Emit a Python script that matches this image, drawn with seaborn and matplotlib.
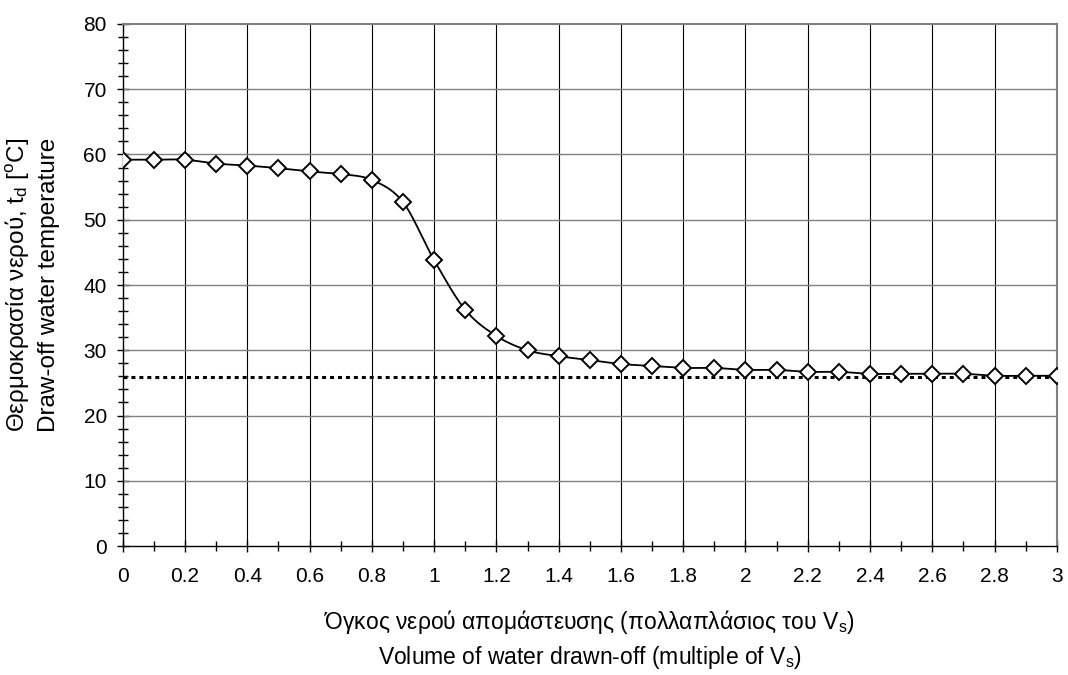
import numpy as np
import pandas as pd
import matplotlib
matplotlib.use("Agg")
import matplotlib.pyplot as plt
import seaborn as sns
from matplotlib.ticker import MultipleLocator, FuncFormatter

# ============================
# DATA
# ============================

volume = [0.0, 0.1, 0.2, 0.3, 0.4, 0.5, 0.6, 0.7, 0.8, 0.9,
          1.0, 1.1, 1.2, 1.3, 1.4, 1.5, 1.6, 1.7, 1.8, 1.9,
          2.0, 2.1, 2.2, 2.3, 2.4, 2.5, 2.6, 2.7, 2.8, 2.9, 3.0]
temperature = [59.2, 59.2, 59.2, 58.6, 58.3, 57.9, 57.4, 57.0, 56.1, 52.7,
               43.8, 36.2, 32.2, 30.0, 29.1, 28.5, 27.9, 27.6, 27.3, 27.3,
               27.0, 27.0, 26.7, 26.7, 26.4, 26.4, 26.4, 26.4, 26.1, 26.1, 26.1]
cold_level = 25.9

df = pd.DataFrame({"volume": volume, "temperature": temperature})


# smooth curve through the points (Bezier, like a spreadsheet "smoothed line")
def smooth_curve(xs, ys, n=20):
    p = np.column_stack([xs, ys])
    pts = np.vstack([p[0], p, p[-1]])
    out = []
    t = np.linspace(0, 1, n, endpoint=False)[:, None]
    for i in range(1, len(pts) - 2):
        p0, p1, p2, p3 = pts[i - 1], pts[i], pts[i + 1], pts[i + 2]
        b1 = p1 + (p2 - p0) / 6
        b2 = p2 - (p3 - p1) / 6
        seg = ((1 - t) ** 3) * p1 + 3 * ((1 - t) ** 2) * t * b1 + 3 * (1 - t) * t ** 2 * b2 + t ** 3 * p2
        out.append(seg)
    out.append(p[-1][None, :])
    return np.vstack(out)


curve = smooth_curve(df["volume"].values, df["temperature"].values)

# ============================
# PLOT
# ============================

sns.set_theme(style="white")
plt.rcParams["font.family"] = ["Liberation Sans", "DejaVu Sans"]
plt.rcParams["mathtext.fontset"] = "custom"
plt.rcParams["mathtext.rm"] = "Liberation Sans"
plt.rcParams["mathtext.it"] = "Liberation Sans"

fig = plt.figure(figsize=(10.68, 6.75), dpi=100)
ax = fig.add_axes([0.115, 0.191, 0.8745, 0.7735])

ax.axhline(cold_level, color="black", lw=2.2, ls=(0, (1.3, 1.3)), zorder=2)
sns.lineplot(x=curve[:, 0], y=curve[:, 1], color="black", lw=1.3, ax=ax, zorder=3, sort=False)
ax.plot(df["volume"], df["temperature"], ls="none", marker="D", markersize=8.5,
        markerfacecolor="white", markeredgecolor="black", markeredgewidth=1.4, zorder=4)

ax.set_xlim(0, 3)
ax.set_ylim(0, 80)
ax.xaxis.set_major_locator(MultipleLocator(0.2))
ax.xaxis.set_minor_locator(MultipleLocator(0.1))
ax.yaxis.set_major_locator(MultipleLocator(10))
ax.yaxis.set_minor_locator(MultipleLocator(2))
ax.xaxis.set_major_formatter(FuncFormatter(lambda v, pos: f"{v:g}"))

ax.grid(False)
for v in np.arange(0.2, 3.0, 0.2):
    ax.axvline(v, color="black", lw=0.8, zorder=1)
for v in range(10, 80, 10):
    ax.axhline(v, color="#808080", lw=1.0, zorder=1)

for side in ["top", "right"]:
    ax.spines[side].set_color("#808080")
    ax.spines[side].set_linewidth(1.5)
for side in ["left", "bottom"]:
    ax.spines[side].set_color("black")
    ax.spines[side].set_linewidth(1.0)

ax.tick_params(axis="both", which="major", direction="inout", length=8, width=1.0,
               color="black", labelsize=15, labelcolor="black",
               bottom=True, left=True)
ax.tick_params(axis="x", which="major", pad=11)
ax.tick_params(axis="y", which="major", pad=7.5)
ax.tick_params(axis="both", which="minor", direction="inout", length=7, width=1.0,
               color="black", bottom=True, left=True)

ax.set_xlabel("Όγκος νερού απομάστευσης (πολλαπλάσιος του V$_\\mathrm{s}$)\n"
              "Volume of water drawn-off (multiple of V$_\\mathrm{s}$)",
              fontsize=16.5, linespacing=1.42, color="black", va="top")
ax.xaxis.set_label_coords(0.5, -0.118)
ax.set_ylabel("Θερμοκρασία νερού, t$_\\mathrm{d}$ [$^\\mathrm{o}$C]\n"
              "Draw-off water temperature",
              fontsize=17.5, linespacing=1.45, color="black")
ax.yaxis.set_label_coords(-0.067, 0.5)

plt.savefig("out.png", dpi=100)
plt.close()
